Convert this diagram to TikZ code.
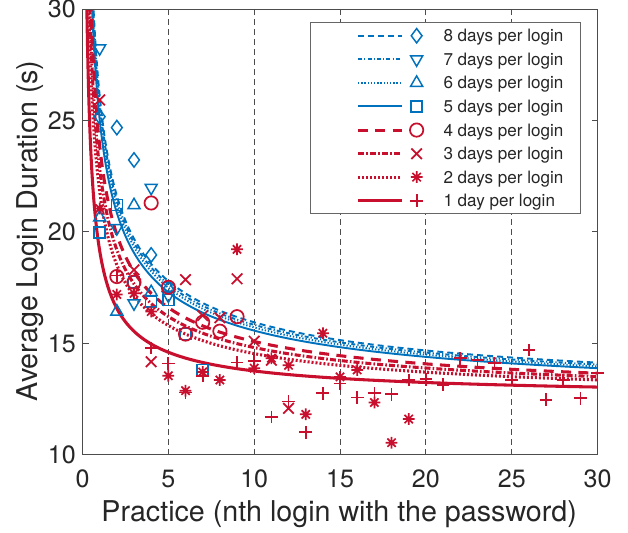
\documentclass[tikz,border=0pt]{standalone}
\usepackage{fontspec}
\setmainfont{TeX Gyre Heros}
\usetikzlibrary{plotmarks}

\definecolor{cblue}{RGB}{0,114,189}
\definecolor{cred}{RGB}{200,16,46}

\pgfdeclareplotmark{mstar}{%
  \pgfpathmoveto{\pgfqpoint{0pt}{\pgfplotmarksize}}\pgfpathlineto{\pgfqpoint{0pt}{-\pgfplotmarksize}}%
  \pgfpathmoveto{\pgfqpoint{\pgfplotmarksize}{0pt}}\pgfpathlineto{\pgfqpoint{-\pgfplotmarksize}{0pt}}%
  \pgfpathmoveto{\pgfqpoint{.7071\pgfplotmarksize}{.7071\pgfplotmarksize}}\pgfpathlineto{\pgfqpoint{-.7071\pgfplotmarksize}{-.7071\pgfplotmarksize}}%
  \pgfpathmoveto{\pgfqpoint{-.7071\pgfplotmarksize}{.7071\pgfplotmarksize}}\pgfpathlineto{\pgfqpoint{.7071\pgfplotmarksize}{-.7071\pgfplotmarksize}}%
  \pgfusepathqstroke}

\tikzset{
  blueline/.style={cblue, line width=1.45pt},
  redline/.style={cred, line width=2.3pt},
  day8/.style={blueline, dash pattern=on 4.5pt off 3pt},
  day7/.style={blueline, dash pattern=on 3pt off 1.6pt on 0.9pt off 1.6pt},
  day6/.style={blueline, dash pattern=on 1pt off 1.4pt},
  day5/.style={blueline},
  day4/.style={redline, dash pattern=on 7.5pt off 5.5pt},
  day3/.style={redline, dash pattern=on 4.5pt off 1.6pt on 1.2pt off 1.6pt},
  day2/.style={redline, dash pattern=on 1.5pt off 1.5pt},
  day1/.style={redline},
  bluemark/.style={cblue, line width=1.1pt},
  redmark/.style={cred, line width=1.3pt},
  mk8/.style={bluemark, mark=diamond, mark size=5.4pt},
  mk7/.style={bluemark, mark=triangle, mark size=5.2pt, mark options={rotate=180}},
  mk6/.style={bluemark, mark=triangle, mark size=5.2pt},
  mk5/.style={bluemark, mark=square, mark size=4.1pt},
  mk4/.style={redmark, mark=o, mark size=5pt},
  mk3/.style={redmark, mark=x, mark size=5.6pt},
  mk2/.style={redmark, mark=mstar, mark size=4.4pt},
  mk1/.style={redmark, mark=+, mark size=4.8pt},
  gridline/.style={black!70, line width=0.7pt, dash pattern=on 4.5pt off 3pt},
  axisbox/.style={black!70, line width=0.75pt},
  ticklab/.style={black!85, inner sep=0pt, font=\fontsize{18.8}{20}\selectfont},
  axislab/.style={black!85, inner sep=0pt, font=\fontsize{21.5}{24}\selectfont},
  legtext/.style={black!85, inner sep=0pt, font=\fontsize{12.8}{14}\selectfont},
  legbox/.style={draw=black!60, fill=white, line width=0.6pt}
}

\begin{document}
\begin{tikzpicture}[x=12.88pt, y=16.725pt]

        \useasboundingbox (-4.805,6.502) rectangle (31.770,30.404);

        \draw [gridline] (5,10) -- (5,30);
        \draw [gridline] (10,10) -- (10,30);
        \draw [gridline] (15,10) -- (15,30);
        \draw [gridline] (20,10) -- (20,30);
        \draw [gridline] (25,10) -- (25,30);

        \begin{scope}
        \clip (0,10) rectangle (30,30);
        \draw [day8] plot[domain=-1.6:3.4012, samples=160] ({exp(\x)}, {11.96+14.15*exp(-0.55*\x)});
        \draw [day7] plot[domain=-1.6:3.4012, samples=160] ({exp(\x)}, {11.91+13.92*exp(-0.55*\x)});
        \draw [day6] plot[domain=-1.6:3.4012, samples=160] ({exp(\x)}, {11.87+13.65*exp(-0.55*\x)});
        \draw [day5] plot[domain=-1.6:3.4012, samples=160] ({exp(\x)}, {11.86+13.18*exp(-0.55*\x)});
        \draw [day4] plot[domain=-1.6:3.4012, samples=160] ({exp(\x)}, {12.14+11.73*exp(-0.6*\x)});
        \draw [day3] plot[domain=-1.6:3.4012, samples=160] ({exp(\x)}, {12.12+10.73*exp(-0.6*\x)});
        \draw [day2] plot[domain=-1.6:3.4012, samples=160] ({exp(\x)}, {12.10+9.73*exp(-0.6*\x)});
        \draw [day1] plot[domain=-1.6:3.4012, samples=160] ({exp(\x)}, {12.42+6.74*exp(-0.7*\x)});
        \end{scope}

        \draw [mk8] plot[only marks] coordinates {(1,25.17) (2,24.68) (3,23.23) (4,18.97)};
        \draw [mk7] plot[only marks] coordinates {(1,28.24) (2,20.17) (3,16.8) (4,21.98) (5,17.15)};
        \draw [mk6] plot[only marks] coordinates {(1,20.65) (2,16.43) (3,21.2) (4,17.3) (5,17.5)};
        \draw [mk5] plot[only marks] coordinates {(1,19.97) (2,21.2) (3,17.75) (4,16.87) (5,16.95) (6,15.42) (7,13.8)};
        \draw [mk4] plot[only marks] coordinates {(2,18.0) (3,17.75) (4,21.3) (5,17.52) (6,15.42) (7,15.95) (8,15.55) (9,16.2)};
        \draw [mk3] plot[only marks] coordinates {(1,25.92) (3,18.3) (4,14.18) (6,17.86) (7,16.25) (8,16.15) (9,17.9) (10,15.1) (11,14.25) (12,12.09)};
        \draw [mk2] plot[only marks] coordinates {(1,21.05) (2,17.2) (3,17.25) (4,16.43) (5,13.55) (6,12.88) (7,13.72) (8,13.36) (9,19.22) (10,13.89)
            (11,14.34) (12,14.02) (13,11.82) (14,15.46) (15,13.5) (16,13.81) (17,12.35) (18,10.55) (19,11.61)};
        \draw [mk1] plot[only marks] coordinates {(2,18.05) (4,14.8) (5,14.1) (6,12.8) (7,13.55) (9,14.15) (10,14.2) (11,11.7) (12,12.4) (13,11.02)
            (14,12.77) (15,13.2) (16,12.57) (17,12.77) (18,12.72) (19,13.36) (20,13.4) (21,13.15) (22,14.34) (23,14.26)
            (24,14.11) (25,13.36) (26,14.71) (27,12.47) (28,13.36) (29,12.54) (30,13.69)};

        \draw [axisbox] (0,10) rectangle (30,30);
        \draw [axisbox] (5,10) -- ++(0,0.27) (10,10) -- ++(0,0.27) (15,10) -- ++(0,0.27) (20,10) -- ++(0,0.27) (25,10) -- ++(0,0.27);
        \draw [axisbox] (5,30) -- ++(0,-0.27) (10,30) -- ++(0,-0.27) (15,30) -- ++(0,-0.27) (20,30) -- ++(0,-0.27) (25,30) -- ++(0,-0.27);
        \draw [axisbox] (0,15) -- ++(0.35,0) (0,20) -- ++(0.35,0) (0,25) -- ++(0.35,0);
        \draw [axisbox] (30,15) -- ++(-0.35,0) (30,20) -- ++(-0.35,0) (30,25) -- ++(-0.35,0);

        \node [ticklab, anchor=base] (xt0) at (0,8.53) {0};
        \node [ticklab, anchor=base] (xt5) at (5,8.53) {5};
        \node [ticklab, anchor=base] (xt10) at (10,8.53) {10};
        \node [ticklab, anchor=base] (xt15) at (15,8.53) {15};
        \node [ticklab, anchor=base] (xt20) at (20,8.53) {20};
        \node [ticklab, anchor=base] (xt25) at (25,8.53) {25};
        \node [ticklab, anchor=base] (xt30) at (30,8.53) {30};

        \node [ticklab, anchor=east] (yt10) at (-0.38,10) {10};
        \node [ticklab, anchor=east] (yt15) at (-0.38,15) {15};
        \node [ticklab, anchor=east] (yt20) at (-0.38,20) {20};
        \node [ticklab, anchor=east] (yt25) at (-0.38,25) {25};
        \node [ticklab, anchor=east] (yt30) at (-0.38,30) {30};

        \node [axislab, anchor=base] (xlab) at (14.95,7.01) {Practice (nth login with the password)};
        \node [axislab, anchor=base, rotate=90] (ylab) at (-2.63,20.05) {Average Login Duration (s)};

        \draw [legbox] (13.25,20.84) rectangle (28.975,29.39);

        \draw [day8] (16.05,28.80) -- (18.59,28.80);
        \draw [day7] (16.05,27.74) -- (18.59,27.74);
        \draw [day6] (16.05,26.69) -- (18.59,26.69);
        \draw [day5] (16.05,25.63) -- (18.59,25.63);
        \draw [day4] (16.05,24.57) -- (18.59,24.57);
        \draw [day3] (16.05,23.51) -- (18.59,23.51);
        \draw [day2] (16.05,22.46) -- (18.59,22.46);
        \draw [day1] (16.05,21.40) -- (18.59,21.40);

        \draw [mk8] plot[only marks] coordinates {(19.46,28.80)};
        \draw [mk7] plot[only marks] coordinates {(19.46,27.74)};
        \draw [mk6] plot[only marks] coordinates {(19.46,26.69)};
        \draw [mk5] plot[only marks] coordinates {(19.46,25.63)};
        \draw [mk4] plot[only marks] coordinates {(19.46,24.57)};
        \draw [mk3] plot[only marks] coordinates {(19.46,23.51)};
        \draw [mk2] plot[only marks] coordinates {(19.46,22.46)};
        \draw [mk1] plot[only marks] coordinates {(19.46,21.40)};

        \node [legtext, anchor=base west] (leg8) at (21.01,28.53) {8 days per login};
        \node [legtext, anchor=base west] (leg7) at (21.01,27.47) {7 days per login};
        \node [legtext, anchor=base west] (leg6) at (21.01,26.42) {6 days per login};
        \node [legtext, anchor=base west] (leg5) at (21.01,25.36) {5 days per login};
        \node [legtext, anchor=base west] (leg4) at (21.01,24.30) {4 days per login};
        \node [legtext, anchor=base west] (leg3) at (21.01,23.24) {3 days per login};
        \node [legtext, anchor=base west] (leg2) at (21.01,22.19) {2 days per login};
        \node [legtext, anchor=base west] (leg1) at (21.01,21.13) {1 day per login};

    \end{tikzpicture}
\end{document}
